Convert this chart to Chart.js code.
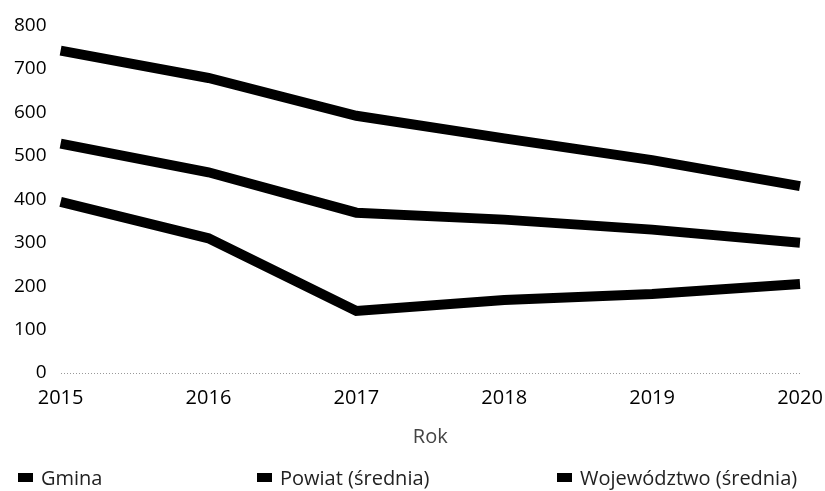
<!DOCTYPE html>
<html><head><meta charset="utf-8">
<script src="https://cdn.jsdelivr.net/npm/chart.js@4/dist/chart.umd.min.js"></script>
<style>
html,body{margin:0;padding:0;background:#fff}
#w{position:relative;width:825px;height:491px}
#lg{position:absolute;left:0;top:466px;width:825px;height:22px;font-family:'Open Sans','Noto Sans',sans-serif;font-size:20px;color:#222}
.it{position:absolute;top:0;display:flex;align-items:center;height:22px;white-space:nowrap}
.bx{display:inline-block;width:15px;height:9px;background:#000;margin-right:8px}
</style>
</head><body><div id="w"><canvas id="c"></canvas><div id="lg"></div></div>
<script>
const years = ['2015','2016','2017','2018','2019','2020'];
const gmina = [394, 310, 143, 168, 182, 205];
const powiat = [528, 462, 369, 353, 330, 300];
const wojewodztwo = [742, 679, 592, 540, 490, 430];
const seriesNames = ['Gmina', 'Powiat (średnia)', 'Województwo (średnia)'];
const yTicks = [0, 100, 200, 300, 400, 500, 600, 700, 800];
const legendLeft = [18, 257, 557];

const font = "'Open Sans', 'Noto Sans', sans-serif";
const mk = (label, data) => ({label, data, borderColor:'#000', backgroundColor:'#000', borderWidth:10, pointRadius:0, tension:0, borderJoinStyle:'miter', borderCapStyle:'butt'});
const chart = new Chart(document.getElementById('c'), {
  type:'line',
  data:{labels:years, datasets:[mk(seriesNames[0], gmina), mk(seriesNames[1], powiat), mk(seriesNames[2], wojewodztwo)]},
  options:{
    responsive:true, maintainAspectRatio:false, animation:false,
    layout:{padding:{top:6,left:0,right:25,bottom:42}},
    plugins:{tooltip:{enabled:false}, legend:{display:false}},
    scales:{
      x:{
        offset:false,
        afterFit:(s)=>{s.paddingLeft = 0; s.paddingRight = 0;},
        grid:{display:false},
        border:{display:false},
        ticks:{color:'#000', font:{family:font, size:20}, maxRotation:0, autoSkip:false, padding:5},
        title:{display:true, text:'Rok', color:'#444', font:{family:font, size:20}, padding:{top:10, bottom:0}}
      },
      y:{
        min:0, max:800,
        afterBuildTicks:(s)=>{s.ticks = yTicks.map(v=>({value:v}));},
        grid:{drawTicks:false, color:(ctx)=> ctx.tick && ctx.tick.value===0 ? '#999' : 'rgba(0,0,0,0)', lineWidth:1},
        border:{display:false, dash:[1,2]},
        ticks:{color:'#000', font:{family:font, size:19}, padding:14, autoSkip:false}
      }
    }
  }
});
const lg = document.getElementById('lg');
chart.data.datasets.forEach((ds, i) => {
  const it = document.createElement('div');
  it.className = 'it';
  it.style.left = legendLeft[i] + 'px';
  const bx = document.createElement('span');
  bx.className = 'bx';
  bx.style.background = ds.backgroundColor;
  it.appendChild(bx);
  it.appendChild(document.createTextNode(ds.label));
  lg.appendChild(it);
});
</script></body></html>
